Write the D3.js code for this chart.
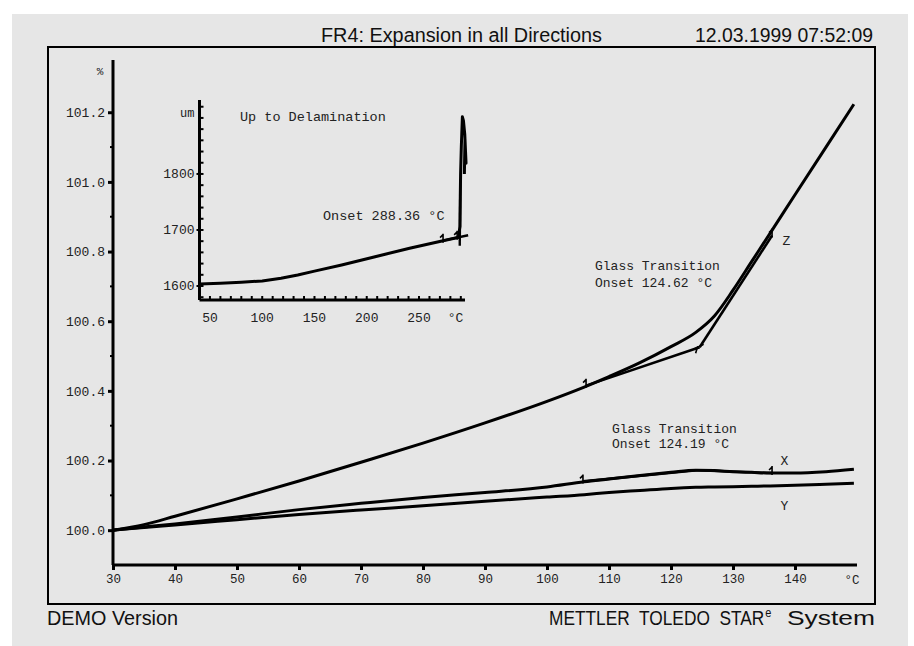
<!DOCTYPE html>
<html>
<head>
<meta charset="utf-8">
<script src="https://cdn.jsdelivr.net/npm/d3@7"></script>
<style>
  html, body { margin: 0; padding: 0; background: #ffffff; }
  svg { display: block; }
  text { white-space: pre; }
  .mono { font-family: "Liberation Mono", "DejaVu Sans Mono", monospace; fill: #222; }
  .sans { font-family: "Liberation Sans", Arial, sans-serif; fill: #111; }
</style>
</head>
<body>
<svg id="chart" width="914" height="646"></svg>
<script>
// ---- main chart data: relative length change (%) vs temperature (°C) ----
const temps   = [30, 35, 40, 50, 60, 70, 80, 90, 100, 106, 110, 115, 120, 124, 127, 130, 133, 136, 140, 145, 149.5];
const zValues = [100.000, 100.016, 100.040, 100.090, 100.141, 100.195, 100.250, 100.308, 100.370, 100.411, 100.441, 100.481, 100.527, 100.568, 100.615, 100.689, 100.771, 100.853, 100.963, 101.100, 101.223];
const xValues = [100.000, 100.009, 100.018, 100.038, 100.059, 100.077, 100.094, 100.108, 100.124, 100.139, 100.147, 100.157, 100.166, 100.172, 100.171, 100.168, 100.166, 100.164, 100.164, 100.168, 100.175];
const yValues = [100.000, 100.008, 100.015, 100.030, 100.045, 100.058, 100.070, 100.083, 100.095, 100.102, 100.108, 100.114, 100.120, 100.123, 100.124, 100.125, 100.126, 100.127, 100.129, 100.132, 100.135];

// glass transition evaluation (onsets and tangent end points)
const zOnset = [124.62, 100.525];
const zTangentStart = [106.3, 100.415];
const zTangentEnd = [136.3, 100.846];
const xOnset = [124.19, 100.172];
const xTangentStart = [105.8, 100.140];
const xTangentEnd = [136.3, 100.164];

const mainXTicks = [30, 40, 50, 60, 70, 80, 90, 100, 110, 120, 130, 140];
const mainYTicks = [100.0, 100.2, 100.4, 100.6, 100.8, 101.0, 101.2];
const mainYMinor = [100.1, 100.3, 100.5, 100.7, 100.9, 101.1];

// ---- inset data: absolute length (um) vs temperature (°C), up to delamination ----
const insetTemps  = [40, 60, 80, 100, 118, 134, 150, 176, 208, 241, 273, 286, 288.3, 288.7, 289.2, 289.5, 289.8, 290.5, 291.5, 292.5, 293.8, 294.5, 295.0, 294.6, 294.0, 293.4];
const insetLength = [1603.5, 1605.0, 1606.6, 1609.0, 1613.7, 1619.6, 1626.5, 1637.5, 1652.3, 1667.3, 1680.9, 1686.0, 1687.0, 1700.0, 1706.0, 1760.0, 1801.0, 1850.0, 1902.0, 1895.0, 1870.0, 1840.0, 1819.0, 1835.0, 1862.0, 1800.0];
const insetOnset = 288.36;
const insetBaseline = [[273, 1680.9], [297, 1690.5]];
const insetXTicks = [50, 100, 150, 200, 250];
const insetYTicks = [1600, 1700, 1800];

const svg = d3.select("#chart");

// page background and frame
svg.append("rect").attr("x", 12).attr("y", 14).attr("width", 896).attr("height", 632).attr("fill", "#e6e6e6");
svg.append("rect").attr("x", 48).attr("y", 47).attr("width", 827).attr("height", 557)
  .attr("fill", "none").attr("stroke", "#000").attr("stroke-width", 2);

// header and footer
svg.append("text").attr("class", "sans").attr("x", 321).attr("y", 42).attr("font-size", 20)
  .attr("textLength", 281).attr("lengthAdjust", "spacingAndGlyphs").text("FR4: Expansion in all Directions");
svg.append("text").attr("class", "sans").attr("x", 695).attr("y", 42).attr("font-size", 20)
  .attr("textLength", 178).attr("lengthAdjust", "spacingAndGlyphs").text("12.03.1999 07:52:09");
svg.append("text").attr("class", "sans").attr("x", 47).attr("y", 625).attr("font-size", 20)
  .attr("textLength", 131).attr("lengthAdjust", "spacingAndGlyphs").text("DEMO Version");
// brand line: narrow capitals, stretched vertically to the line height
const brand = svg.append("text").attr("class", "sans")
  .attr("transform", "translate(549,625) scale(1,1.14)").attr("font-size", 17.3);
brand.append("tspan").text("METTLER  TOLEDO  STAR");
brand.append("tspan").attr("font-size", 11).attr("dy", -7).attr("dx", 1).text("e");
svg.append("text").attr("class", "sans").attr("x", 787).attr("y", 625).attr("font-size", 20)
  .attr("textLength", 88).attr("lengthAdjust", "spacingAndGlyphs").text("System");

// ---- main scales ----
const x = d3.scaleLinear().domain([30, 150]).range([113, 857]);
const y = d3.scaleLinear().domain([99.9, 101.35]).range([565, 60]);

const main = svg.append("g");

// axes lines
main.append("line").attr("x1", x(30)).attr("x2", x(30)).attr("y1", y(101.35)).attr("y2", y(99.9))
  .attr("stroke", "#000").attr("stroke-width", 3);
main.append("line").attr("x1", x(30)).attr("x2", x(150)).attr("y1", y(99.9)).attr("y2", y(99.9))
  .attr("stroke", "#000").attr("stroke-width", 3);

// y ticks
const yAxis = d3.axisLeft(y).tickValues(mainYTicks).tickSize(5).tickPadding(3).tickFormat(d3.format(".1f"));
const gy = main.append("g").attr("transform", `translate(${x(30)},0)`).call(yAxis);
gy.select(".domain").remove();
gy.selectAll(".tick line").attr("stroke", "#000").attr("stroke-width", 3);
gy.selectAll(".tick text").attr("class", "mono").attr("font-size", 13).attr("fill", "#222")
  .attr("font-family", "Liberation Mono, monospace");
main.selectAll(".yminor").data(mainYMinor).enter().append("line")
  .attr("x1", x(30) - 3).attr("x2", x(30)).attr("y1", d => y(d)).attr("y2", d => y(d))
  .attr("stroke", "#000").attr("stroke-width", 2);
main.append("text").attr("class", "mono").attr("x", 100).attr("y", 75).attr("font-size", 11)
  .attr("text-anchor", "middle").text("%");

// x ticks
const xAxis = d3.axisBottom(x).tickValues(mainXTicks).tickSize(5).tickPadding(4).tickFormat(d3.format("d"));
const gx = main.append("g").attr("transform", `translate(0,${y(99.9)})`).call(xAxis);
gx.select(".domain").remove();
gx.selectAll(".tick line").attr("stroke", "#000").attr("stroke-width", 3);
gx.selectAll(".tick text").attr("font-size", 12.5).attr("fill", "#222")
  .attr("font-family", "Liberation Mono, monospace");
main.append("text").attr("class", "mono").attr("x", x(149.2)).attr("y", y(99.9) + 19)
  .attr("font-size", 12.5).attr("text-anchor", "middle").text("°C");

// curves
const line = d3.line().x(d => x(d[0])).y(d => y(d[1])).curve(d3.curveMonotoneX);
const series = [zValues, xValues, yValues];
main.selectAll(".curve").data(series).enter().append("path")
  .attr("d", vals => line(temps.map((t, i) => [t, vals[i]])))
  .attr("fill", "none").attr("stroke", "#000").attr("stroke-width", 3).attr("stroke-linejoin", "round");

// tangent constructions
const seg = d3.line().x(d => x(d[0])).y(d => y(d[1]));
[[zTangentStart, zOnset], [zOnset, zTangentEnd], [xTangentStart, xOnset], [xOnset, xTangentEnd]].forEach(s => {
  main.append("path").attr("d", seg(s)).attr("fill", "none").attr("stroke", "#000").attr("stroke-width", 2.6);
});

// evaluation limit markers
function marker(g, px, py) {
  g.append("path").attr("d", `M${px},${py + 2} L${px},${py - 7} M${px},${py - 6} L${px - 3},${py - 3}`)
    .attr("fill", "none").attr("stroke", "#000").attr("stroke-width", 1.6);
}
[zTangentStart, zTangentEnd, xTangentStart, xTangentEnd].forEach(p => marker(main, x(p[0]), y(p[1])));
main.append("path")
  .attr("d", `M${x(zOnset[0]) - 6},${y(zOnset[1]) + 2} L${x(zOnset[0]) + 4},${y(zOnset[1]) - 3} M${x(zOnset[0]) - 2},${y(zOnset[1]) - 1} L${x(zOnset[0]) - 4},${y(zOnset[1]) + 6}`)
  .attr("fill", "none").attr("stroke", "#000").attr("stroke-width", 1.6);

// annotations
function monoText(g, tx, ty, s, anchor) {
  g.append("text").attr("class", "mono").attr("x", tx).attr("y", ty).attr("font-size", 13)
    .attr("text-anchor", anchor || "start").text(s);
}
monoText(main, 595, 270, "Glass Transition");
monoText(main, 595, 287, `Onset ${zOnset[0].toFixed(2)} °C`);
monoText(main, 612, 433, "Glass Transition");
monoText(main, 612, 448, `Onset ${xOnset[0].toFixed(2)} °C`);
monoText(main, x(138.6), y(100.818), "Z", "middle");
monoText(main, x(138.3), y(100.187), "X", "middle");
monoText(main, x(138.3), y(100.058), "Y", "middle");

// ---- inset ----
const ix = d3.scaleLinear().domain([40, 294]).range([199.5, 465]);
const iy = d3.scaleLinear().domain([1575, 1932]).range([300, 100]);
const inset = svg.append("g");

inset.append("line").attr("x1", ix(40)).attr("x2", ix(40)).attr("y1", iy(1932)).attr("y2", iy(1575))
  .attr("stroke", "#000").attr("stroke-width", 3);
inset.append("line").attr("x1", ix(40)).attr("x2", ix(294)).attr("y1", iy(1575)).attr("y2", iy(1575))
  .attr("stroke", "#000").attr("stroke-width", 3);

// inset y ticks: minor every 20 um inside, labels every 100 um
const iyMinor = d3.range(1580, 1932, 20);
inset.selectAll(".iym").data(iyMinor).enter().append("line")
  .attr("x1", ix(40)).attr("x2", ix(40) + 4).attr("y1", d => iy(d)).attr("y2", d => iy(d))
  .attr("stroke", "#000").attr("stroke-width", 2);
inset.selectAll(".iyM").data(insetYTicks).enter().append("line")
  .attr("x1", ix(40) - 3).attr("x2", ix(40)).attr("y1", d => iy(d)).attr("y2", d => iy(d))
  .attr("stroke", "#000").attr("stroke-width", 2);
inset.selectAll(".iyl").data(insetYTicks).enter().append("text")
  .attr("class", "mono").attr("x", ix(40) - 5).attr("y", d => iy(d) + 4.5).attr("font-size", 13)
  .attr("text-anchor", "end").text(d => d);
inset.append("text").attr("class", "mono").attr("x", ix(40) - 5).attr("y", 117).attr("font-size", 12)
  .attr("text-anchor", "end").text("um");

// inset x ticks: minor every 10 °C inside, labels every 50 °C
const ixMinor = d3.range(50, 294, 10);
inset.selectAll(".ixm").data(ixMinor).enter().append("line")
  .attr("x1", d => ix(d)).attr("x2", d => ix(d)).attr("y1", iy(1575)).attr("y2", iy(1575) - 4)
  .attr("stroke", "#000").attr("stroke-width", 2);
inset.selectAll(".ixl").data(insetXTicks).enter().append("text")
  .attr("class", "mono").attr("x", d => ix(d)).attr("y", iy(1575) + 22).attr("font-size", 13)
  .attr("text-anchor", "middle").text(d => d);
inset.append("text").attr("class", "mono").attr("x", ix(285)).attr("y", iy(1575) + 22).attr("font-size", 13)
  .attr("text-anchor", "middle").text("°C");

const iline = d3.line().x(d => ix(d[0])).y(d => iy(d[1]));
inset.append("path").attr("d", iline(insetTemps.map((t, i) => [t, insetLength[i]])))
  .attr("fill", "none").attr("stroke", "#000").attr("stroke-width", 3).attr("stroke-linejoin", "round");
inset.append("path").attr("d", iline(insetBaseline)).attr("fill", "none").attr("stroke", "#000").attr("stroke-width", 2.4);
inset.append("path").attr("d", iline([[insetOnset + 0.6, 1672], [insetOnset + 1.2, 1790]]))
  .attr("fill", "none").attr("stroke", "#000").attr("stroke-width", 2.4);
marker(inset, ix(273), iy(1680.9));
marker(inset, ix(286.5), iy(1686));

inset.append("text").attr("class", "mono").attr("x", 240).attr("y", 121).attr("font-size", 13.5).text("Up to Delamination");
inset.append("text").attr("class", "mono").attr("x", 323).attr("y", 220).attr("font-size", 13.5)
  .text(`Onset ${insetOnset.toFixed(2)} °C`);
</script>
</body>
</html>
